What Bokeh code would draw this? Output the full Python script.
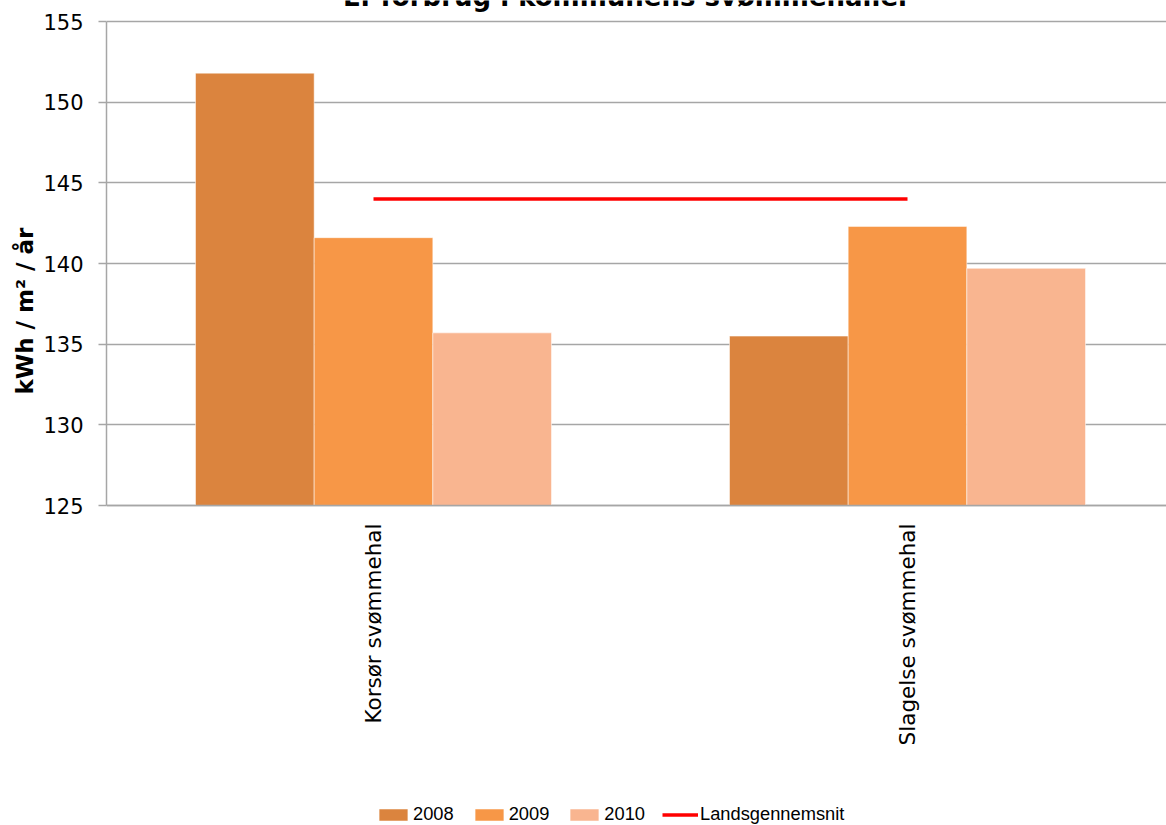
import math
from bokeh.plotting import figure
from bokeh.models import (FixedTicker, Legend, LegendItem, Label, Range1d, ColumnDataSource,
                          Title)
from bokeh.embed import file_html
from bokeh.resources import INLINE

categories = ["Korsør svømmehal", "Slagelse svømmehal"]
years = ["2008", "2009", "2010"]
v2008 = [151.8, 135.5]
v2009 = [141.6, 142.3]
v2010 = [135.7, 139.7]
lands = [144.0, 144.0]
y_ticks = [125, 130, 135, 140, 145, 150, 155]
title_text = "El-forbrug i kommunens svømmehaller"
y_title = "kWh / m² / år"
line_label = "Landsgennemsnit"

colors = ["#DB843E", "#F79747", "#F9B590"]

# layout geometry (pixels)
W, H = 1166, 825
frame_top_px = 21          # where the 155 gridline sits
plot_px = 484              # 125..155
bottom_px = H - frame_top_px - plot_px
ymin, ymax = y_ticks[0], y_ticks[-1]
ppu = plot_px / (ymax - ymin)
# the frame covers the whole height; the value axis only spans 125..155
y_top = ymax + frame_top_px / ppu
y_bot = ymin - bottom_px / ppu

xc = [i + 0.5 for i in range(len(categories))]
bw = 2.0 / 9.0

p = figure(width=W, height=H, output_backend="svg", toolbar_location=None,
           x_range=Range1d(0, 1.985), y_range=Range1d(y_bot, y_top), title=None,
           min_border_left=106, min_border_right=0, min_border_top=0,
           min_border_bottom=0)
p.outline_line_color = None
p.background_fill_color = "white"
p.border_fill_color = "white"

renderers = []
for k, vals in enumerate([v2008, v2009, v2010]):
    src = ColumnDataSource(dict(x=[c + (k - 1) * bw for c in xc], top=vals))
    r = p.vbar(x="x", top="top", bottom=ymin, width=bw, source=src,
               fill_color=colors[k], line_color="white", line_alpha=0.5, line_width=1)
    renderers.append(r)

lsrc = ColumnDataSource(dict(x=xc, y=lands))
lr = p.line(x="x", y="y", source=lsrc, line_color="#FF0000", line_width=3.5)

# x axis (categories), drawn at the 125 baseline
p.xaxis.fixed_location = ymin
p.xaxis.ticker = FixedTicker(ticks=xc)
p.xaxis.major_label_overrides = {c: lab for c, lab in zip(xc, categories)}
p.xaxis.major_label_orientation = math.pi / 2
p.xaxis.major_tick_line_color = None
p.xaxis.major_tick_out = 0
p.xaxis.major_tick_in = 0
p.xaxis.minor_tick_line_color = None
p.xaxis.major_label_standoff = 18
p.xaxis.major_label_text_font = "DejaVu Sans"
p.xaxis.major_label_text_font_size = "21.5px"
p.xaxis.major_label_text_color = "black"
p.xaxis.axis_line_color = "#A6A6A6"
p.xaxis.axis_line_width = 1.5
p.xgrid.grid_line_color = None

# y axis
p.yaxis.ticker = FixedTicker(ticks=y_ticks)
p.yaxis.bounds = (ymin, ymax)
p.yaxis.major_tick_out = 8
p.yaxis.major_tick_in = 0
p.yaxis.major_tick_line_color = "#A6A6A6"
p.yaxis.major_tick_line_width = 1.5
p.yaxis.minor_tick_line_color = None
p.yaxis.axis_line_color = "#A6A6A6"
p.yaxis.axis_line_width = 1.5
p.yaxis.major_label_standoff = 15
p.yaxis.major_label_text_font = "DejaVu Sans"
p.yaxis.major_label_text_font_size = "21px"
p.yaxis.major_label_text_color = "black"
p.ygrid.grid_line_color = "#A6A6A6"
p.ygrid.grid_line_width = 1.5

# main title (partly above the page edge, as in the original)
p.add_layout(Label(x=0.9747, y=y_top + 4 / ppu, text=title_text, text_align="center",
                   text_baseline="alphabetic", text_font="DejaVu Sans",
                   text_font_style="bold", text_font_size="26px", text_color="black"))

# y axis title
p.add_layout(Title(text=y_title, align="left", offset=431, vertical_align="middle",
                   standoff=4, text_font="DejaVu Sans", text_font_style="bold",
                   text_font_size="23px", text_color="black"), "left")

items = [LegendItem(label=y, renderers=[r]) for y, r in zip(years, renderers)]
items.append(LegendItem(label=line_label, renderers=[lr]))
legend = Legend(items=items, orientation="horizontal", location=(269, 0),
                glyph_width=36, glyph_height=15, label_standoff=2, spacing=17,
                padding=0, margin=0, border_line_color=None, background_fill_alpha=0,
                label_text_font="Liberation Sans", label_text_font_size="18.3px",
                label_text_color="black")
p.add_layout(legend, "center")

open("out.html", "w").write(file_html(p, INLINE))
